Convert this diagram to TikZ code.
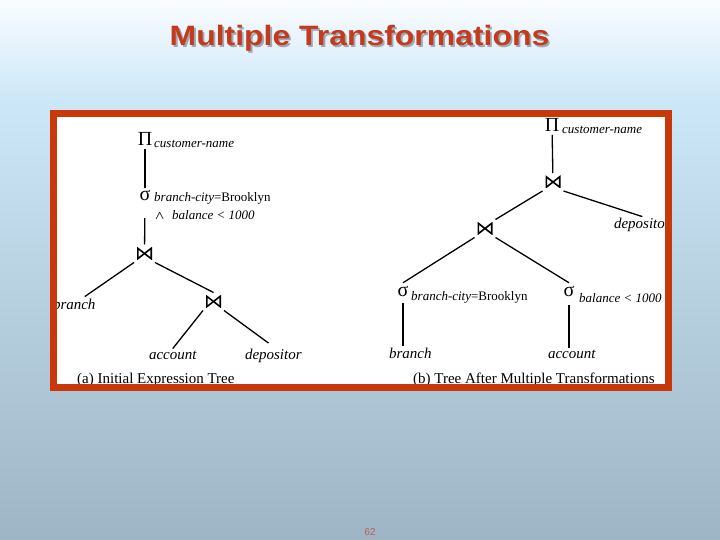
\documentclass[tikz,border=0pt]{standalone}
\usepackage{fontspec}
\setmainfont{Liberation Serif}
\newfontfamily\titlefont{Liberation Sans}
\usetikzlibrary{calc}
\definecolor{framered}{RGB}{200,56,8}
\definecolor{titlered}{RGB}{196,58,28}
\definecolor{titleshadow}{RGB}{160,170,180}
\definecolor{bgtop}{RGB}{250,252,255}
\definecolor{bgmid}{RGB}{204,231,248}
\definecolor{bgbot}{RGB}{158,181,197}
\definecolor{pagenum}{RGB}{200,90,80}
\begin{document}
\begin{tikzpicture}[x=1pt,y=-1pt,
  edge/.style={line width=1.3pt,black},
  op/.style={inner sep=0pt,outer sep=3pt,anchor=base,font=\fontsize{20}{20}\selectfont},
  sub/.style={inner sep=0pt,anchor=base west,font=\fontsize{13}{13}\selectfont\itshape},
  rel/.style={inner sep=0pt,outer sep=2pt,anchor=base west,font=\fontsize{15}{15}\selectfont\itshape},
  captiontext/.style={inner sep=0pt,anchor=base west,font=\fontsize{15}{15}\selectfont},
  titletext/.style={inner sep=0pt,anchor=base,xscale=1.14,font=\titlefont\bfseries\fontsize{28}{28}\selectfont},
  joinop/.style={inner sep=0pt,outer sep=3pt,minimum width=15pt,minimum height=12pt,
    path picture={\draw[line width=1.6pt]
      ([xshift=0.8pt,yshift=-0.8pt]path picture bounding box.north west) --
      ([xshift=-0.8pt,yshift=0.8pt]path picture bounding box.south east) --
      ([xshift=-0.8pt,yshift=-0.8pt]path picture bounding box.north east) --
      ([xshift=0.8pt,yshift=0.8pt]path picture bounding box.south west) -- cycle;}}]
\useasboundingbox (0,0) rectangle (720,540);
% background
\shade[top color=bgtop,bottom color=bgmid] (0,0) rectangle (720,100);
\shade[top color=bgmid,bottom color=bgbot] (0,100) rectangle (720,540);
% title with shadow
\node[titletext,text=titleshadow] (titleshadow) at (361.3,47.5) {Multiple Transformations};
\node[titletext,text=titlered] (title) at (359.5,45.7) {Multiple Transformations};
% panel
\fill[white] (53.5,113.5) rectangle (668.5,387.5);

% ---- left tree (a)
\node[op] (pi1) at (145,146) {Π};
\node[sub] (pi1s) at (154,148) {customer-name};
\node[op] (sig1) at (145,201) {σ};
\node[sub] (sig1s) at (154,202) {branch-city{\upshape =Brooklyn}};
\node[sub] (sig1t) at (155,219) {{\upshape\boldmath$\wedge$}\hspace{0.6em}balance < 1000};
\node[joinop] (j1) at (144.5,253.5) {};
\node[joinop] (j2) at (213.5,301.5) {};
\node[rel] (branch1) at (51,309) {branch};
\node[rel] (account1) at (147,359) {account};
\node[rel] (depositor1) at (243,359) {depositor};
\node[captiontext] (capa) at (77,383) {(a) Initial Expression Tree};

\draw[edge] (pi1) -- (sig1);
\draw[edge,shorten <=14pt] (sig1) -- (j1);
\draw[edge] (j1.south west) -- (branch1);
\draw[edge] (j1.south east) -- (j2.north);
\draw[edge] (j2.south west) -- (account1.north);
\draw[edge,shorten >=6pt] (j2.south east) -- (depositor1.north);

% ---- right tree (b)
\node[op] (pi2) at (552,132) {Π};
\node[sub] (pi2s) at (562,134) {customer-name};
\node[joinop] (jt) at (553,182) {};
\node[joinop] (jm) at (485,228.5) {};
\node[rel] (depositor2) at (612,229) {depositor};
\node[op] (sig2) at (403,296) {σ};
\node[sub] (sig2s) at (411,300) {branch-city{\upshape =Brooklyn}};
\node[op] (sig3) at (569,296) {σ};
\node[sub] (sig3s) at (579,302) {balance < 1000};
\node[rel] (branch2) at (387,358) {branch};
\node[rel] (account2) at (546,358) {account};
\node[captiontext] (capb) at (413,383) {(b) Tree After Multiple Transformations};

\draw[edge] (pi2) -- (jt);
\draw[edge] (jt.south west) -- (jm.north east);
\draw[edge] (jt.south east) -- (depositor2.north);
\draw[edge] (jm.south west) -- (sig2.north);
\draw[edge] (jm.south east) -- (sig3.north);
\draw[edge,shorten <=4pt] (sig2.south) -- (sig2.south |- branch2.north);
\draw[edge,shorten <=6pt] (sig3.south) -- (sig3.south |- account2.north);

% frame
\draw[framered,line width=7pt] (53.5,113.5) rectangle (668.5,387.5);
% page number
\node[inner sep=0pt,anchor=base,text=pagenum,font=\titlefont\fontsize{10}{10}\selectfont] (pnum) at (370,535) {62};
\end{tikzpicture}
\end{document}
